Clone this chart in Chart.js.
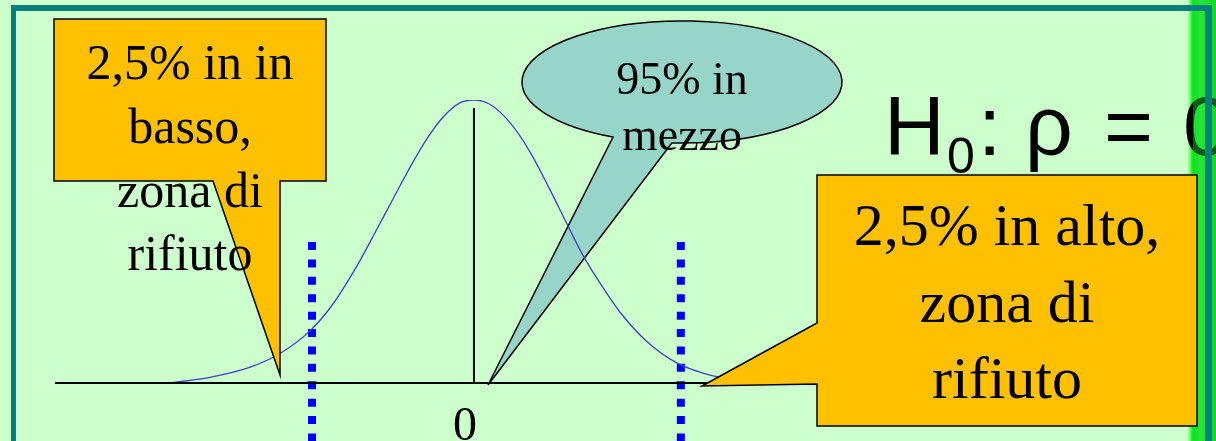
<!DOCTYPE html>
<html>
<head>
<meta charset="utf-8">
<title>Zona di rifiuto</title>
<script src="https://cdn.jsdelivr.net/npm/chart.js@4/dist/chart.umd.min.js"></script>
<style>
    html, body { margin: 0; padding: 0; background: #ccffcc; }
    #wrap { width: 1216px; height: 441px; position: relative; }
</style>
</head>
<body>
<div id="wrap"><canvas id="chart" width="1216" height="441"></canvas></div>
<script>
/* Normal curve with two-tailed rejection zones */

// x in standard units, y relative to the peak height
const curveX = [-3.45, -3.00, -2.55, -2.20, -1.86, -1.60, -1.30, -1.10, -0.92, -0.73, -0.53, -0.35, -0.16, 0,
    0.18, 0.41, 0.64, 0.86, 1.06, 1.24, 1.47, 1.66, 1.97, 2.31, 2.60, 2.80, 3.25, 3.60];
const curveY = [0.00, 0.02, 0.055, 0.105, 0.185, 0.28, 0.43, 0.545, 0.65, 0.76, 0.865, 0.94, 0.99, 1.00,
    0.985, 0.92, 0.815, 0.685, 0.56, 0.45, 0.335, 0.25, 0.145, 0.07, 0.035, 0.02, 0.008, 0.00];

const xRange = [-4.76, 3.886];
const yRange = [-0.205, 1.0];
const meanLineTop = 0.972;
const criticalX = [-1.84, 2.35];
const criticalTop = 0.498;

const tickLabel = "0";
const lowLabel = ["2,5% in in", "basso,", "zona di", "rifiuto"];
const midLabel = ["95% in", "mezzo"];
const highLabel = ["2,5% in alto,", "zona di", "rifiuto"];

const ORANGE = "#ffc000";
const TEAL_FILL = "#97d5c9";
const SERIF = "'Liberation Serif', 'DejaVu Serif', serif";
const SANS = "'Liberation Sans', Arial, sans-serif";

function drawLines(ctx, lines, x, baselines, font) {
    ctx.font = font;
    ctx.fillStyle = "#000";
    ctx.textAlign = "center";
    ctx.textBaseline = "alphabetic";
    lines.forEach((t, i) => ctx.fillText(t, x, baselines[i]));
}

function polygon(ctx, pts, fill) {
    ctx.beginPath();
    ctx.moveTo(pts[0][0], pts[0][1]);
    for (let i = 1; i < pts.length; i++) ctx.lineTo(pts[i][0], pts[i][1]);
    ctx.closePath();
    ctx.fillStyle = fill;
    ctx.fill();
    ctx.lineWidth = 1.5;
    ctx.strokeStyle = "#000";
    ctx.lineJoin = "miter";
    ctx.stroke();
}

const slidePlugin = {
    id: "slide",
    beforeDraw(chart) {
        const ctx = chart.ctx;
        ctx.save();
        ctx.fillStyle = "#ccffcc";
        ctx.fillRect(0, 0, chart.width, chart.height);
        ctx.restore();
    },
    beforeDatasetsDraw(chart) {
        // ellipse callout sits under the curve
        const ctx = chart.ctx;
        const cx = 682, cy = 82, rx = 160, ry = 61;
        const a1 = Math.acos((672 - cx) / rx);
        const a2 = Math.acos((613 - cx) / rx);
        ctx.save();
        ctx.beginPath();
        ctx.ellipse(cx, cy, rx, ry, 0, a1, a2, true);
        ctx.lineTo(488, 385);
        ctx.closePath();
        ctx.fillStyle = TEAL_FILL;
        ctx.fill();
        ctx.lineWidth = 1.5;
        ctx.strokeStyle = "#000";
        ctx.stroke();
        drawLines(ctx, midLabel, 682, [94, 150], "46px " + SERIF);
        ctx.restore();
    },
    afterDatasetsDraw(chart) {
        const ctx = chart.ctx;
        const xs = chart.scales.x;
        ctx.save();

        // tick label under the mean
        ctx.font = "48px " + SERIF;
        ctx.fillStyle = "#000";
        ctx.textAlign = "center";
        ctx.fillText(tickLabel, xs.getPixelForValue(0) - 9, 440);

        // lower tail callout
        polygon(ctx, [[54, 19], [326, 19], [326, 181], [280, 181], [280, 375], [213, 181], [54, 181]], ORANGE);
        drawLines(ctx, lowLabel, 190, [79, 143, 207, 270], "50px " + SERIF);

        // green strip on the right edge
        const g = ctx.createLinearGradient(1188, 0, 1216, 0);
        g.addColorStop(0, "rgba(60,255,60,0.2)");
        g.addColorStop(0.15, "rgba(0,235,0,0.9)");
        g.addColorStop(0.45, "rgba(40,255,40,0.95)");
        g.addColorStop(1, "rgba(0,220,0,0.9)");
        ctx.fillStyle = g;
        ctx.fillRect(1188, 0, 28, 441);

        // hypothesis
        ctx.fillStyle = "#000";
        ctx.textAlign = "left";
        ctx.font = "84px " + SANS;
        ctx.fillText("H", 884, 155);
        ctx.font = "50px " + SANS;
        ctx.fillText("0", 947, 173);
        ctx.font = "84px " + SANS;
        ctx.fillText(":", 978, 155);
        ctx.fillText("\u03c1", 1025, 155);
        ctx.fillText("=", 1104, 155);
        ctx.fillText("0", 1183, 155);

        // strip glow over the cut-off glyph
        ctx.fillStyle = "rgba(20,200,60,0.45)";
        ctx.fillRect(1193, 0, 23, 441);

        // upper tail callout
        polygon(ctx, [[817, 175], [1197, 175], [1197, 426], [817, 426], [817, 384], [702, 386], [817, 323]], ORANGE);
        drawLines(ctx, highLabel, 1007, [245, 322, 398], "60px " + SERIF);

        // slide frame
        ctx.fillStyle = "#008080";
        ctx.fillRect(11, 5, 1201, 6);
        ctx.fillRect(11, 5, 5, 436);
        ctx.fillRect(1205, 5, 7, 436);
        ctx.restore();
    }
};

function pts(xs, ys) {
    return xs.map((x, i) => ({ x: x, y: ys[i] }));
}

new Chart(document.getElementById("chart"), {
    type: "scatter",
    data: {
        datasets: [
            {
                label: "axis",
                data: pts(xRange, [0, 0]),
                showLine: true,
                borderColor: "#000",
                borderWidth: 2,
                pointRadius: 0
            },
            {
                label: "mean",
                data: pts([0, 0], [0, meanLineTop]),
                showLine: true,
                borderColor: "#000",
                borderWidth: 2,
                pointRadius: 0
            },
            {
                label: "density",
                data: pts(curveX, curveY),
                showLine: true,
                borderColor: "#4040c8",
                borderWidth: 1.3,
                cubicInterpolationMode: "monotone",
                pointRadius: 0
            },
            {
                label: "lower critical",
                data: pts([criticalX[0], criticalX[0]], [criticalTop, yRange[0]]),
                showLine: true,
                borderColor: "#0000ff",
                borderWidth: 8,
                borderDash: [8, 9.4],
                borderCapStyle: "butt",
                pointRadius: 0
            },
            {
                label: "upper critical",
                data: pts([criticalX[1], criticalX[1]], [criticalTop, yRange[0]]),
                showLine: true,
                borderColor: "#0000ff",
                borderWidth: 8,
                borderDash: [8, 9.4],
                borderCapStyle: "butt",
                pointRadius: 0
            }
        ]
    },
    options: {
        responsive: false,
        animation: false,
        events: [],
        layout: { padding: { left: 55, right: 400, top: 100, bottom: 0 } },
        plugins: { legend: { display: false }, tooltip: { enabled: false } },
        scales: {
            x: { type: "linear", min: xRange[0], max: xRange[1], display: false },
            y: { type: "linear", min: yRange[0], max: yRange[1], display: false }
        }
    },
    plugins: [slidePlugin]
});
</script>
</body>
</html>
